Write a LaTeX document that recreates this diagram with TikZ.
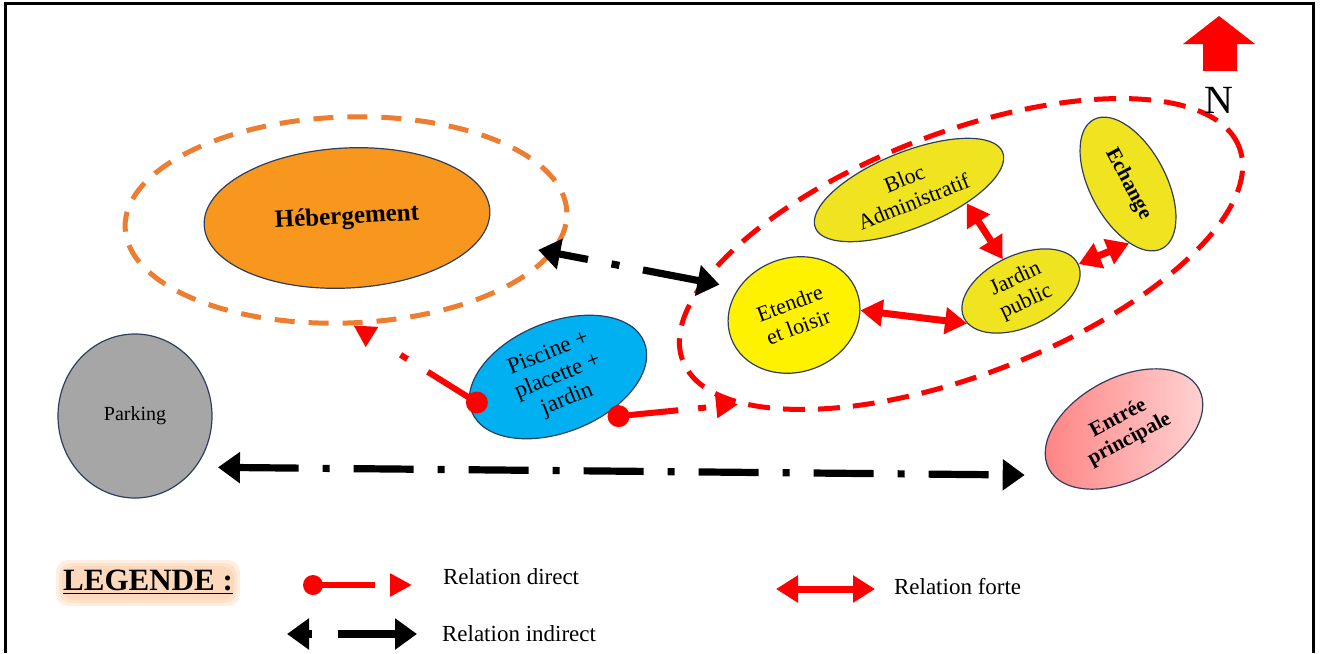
\documentclass[tikz,border=0pt]{standalone}
\usepackage{fontspec}
\setmainfont{Liberation Serif}
\usetikzlibrary{positioning,shapes.geometric,arrows.meta}

\definecolor{orangeheb}{RGB}{247,151,30}
\definecolor{orangezone}{RGB}{237,125,49}
\definecolor{jaunebloc}{RGB}{240,228,32}
\definecolor{bleupisc}{RGB}{0,176,240}
\definecolor{grispark}{RGB}{166,166,166}
\definecolor{bordesp}{RGB}{47,62,94}
\definecolor{roseclair}{RGB}{255,214,214}
\definecolor{rosefonce}{RGB}{255,128,128}
\definecolor{halo}{RGB}{250,190,140}

\tikzset{
    espace/.style={ellipse, draw=bordesp, line width=0.6pt, inner sep=0pt, align=center},
    zone/.style={ellipse, line width=2.5pt, inner sep=0pt},
    pastille/.style={circle, fill=red, inner sep=0pt, minimum size=11pt},
    forte/.style={red, line width=3.5pt, {Triangle[length=11pt,width=13pt]}-{Triangle[length=11pt,width=13pt]}},
    direct/.style={red, line width=3pt, -{Triangle[length=11pt,width=11pt]}},
    indirect/.style={black, line width=3.6pt, {Triangle[length=11pt,width=15pt]}-{Triangle[length=11pt,width=15pt]}},
    legtext/.style={anchor=west, font=\fontsize{11.5}{13}\selectfont},
    legtitre/.style={font=\bfseries\fontsize{15.5}{18}\selectfont, inner sep=1pt},
}

\begin{document}
\begin{tikzpicture}[x=0.5pt, y=-0.5pt]
    \useasboundingbox (0,0) rectangle (1321,653);
    \draw[line width=1.5pt] (5,653) -- (5,3) -- (1313,3) -- (1313,653);

    \node[zone, draw=orangezone, dash pattern=on 10pt off 7pt, minimum width=221pt, minimum height=103pt, rotate=2] (zoneH) at (346,220) {};
    \node[zone, draw=red, dash pattern=on 11pt off 6.5pt, minimum width=298pt, minimum height=121pt, rotate=21] (zoneR) at (961,254) {};

    \node[espace, fill=orangeheb, minimum width=143pt, minimum height=70pt, rotate=3, font=\bfseries\fontsize{12.5}{14}\selectfont] (heb) at (347,218) {Hébergement};
    \node[espace, fill=jaunebloc, minimum width=101pt, minimum height=38pt, rotate=22, font=\fontsize{11}{12.5}\selectfont] (bloc) at (909,190) {Bloc\\Administratif};
    \node[espace, fill=jaunebloc, minimum width=73pt, minimum height=38pt, rotate=-62, font=\bfseries\fontsize{10.5}{12}\selectfont] (ech) at (1128,184) {Echange};
    \node[espace, fill=jaunebloc, minimum width=63pt, minimum height=36pt, rotate=25, font=\fontsize{11}{12.5}\selectfont] (jar) at (1021,291) {Jardin\\public};
    \node[espace, fill=yellow, minimum width=67pt, minimum height=57pt, rotate=20, font=\fontsize{11}{12.5}\selectfont] (eten) at (794,315) {Etendre\\et loisir};
    \node[espace, fill=bleupisc, minimum width=93pt, minimum height=55pt, rotate=22, font=\fontsize{11.5}{12.5}\selectfont] (pis) at (558,377) {Piscine +\\placette +\\jardin};
    \node[espace, fill=grispark, minimum width=77pt, minimum height=82pt, font=\fontsize{10}{12}\selectfont] (park) at (135,416) {Parking};
    \node[espace, left color=rosefonce, right color=roseclair, minimum width=85pt, minimum height=51pt, rotate=28, font=\bfseries\fontsize{10.5}{12}\selectfont] (entr) at (1124,429) {Entrée\\principale};

    \draw[forte] (bloc.-35) -- (jar.95);
    \draw[forte] (ech.-27) -- (jar.0);
    \draw[forte] (eten.-16) -- (jar.186);

    \draw[indirect, dash pattern=on 15pt off 12pt on 4pt off 12pt on 60pt, shorten <=-8pt, shorten >=-9pt] (zoneH.-11) -- (zoneR.165);
    \draw[indirect, dash pattern=on 30pt off 12pt on 3.5pt off 12pt, shorten <=11pt, shorten >=14pt] (park.-40) -- (entr.185);

    \node[pastille] (dotH) at ([shift={(8,0)}]pis.174) {};
    \node[pastille] (dotR) at ([shift={(8,5)}]pis.-55) {};
    \draw[direct, dash pattern=on 29pt off 12pt on 4pt off 40pt] (dotH.center) -- (zoneH.-88);
    \draw[direct, dash pattern=on 30pt off 10pt on 4pt off 30pt] (dotR.center) -- (zoneR.193);

    \fill[red] (1183,44) -- (1219,16) -- (1255,44) -- (1237,44) -- (1237,71) -- (1203,71) -- (1203,44) -- cycle;
    \node[font=\fontsize{20}{24}\selectfont] (nord) at (1219,100) {N};

    \foreach \s in {0,3,6}
        \fill[halo, opacity=0.25, rounded corners=6pt] (62-\s,566-\s) rectangle (234+\s,600+\s);
    \node[legtitre] (legende) at (148,582) {\underline{LEGENDE :}};

    \node[pastille, minimum size=10pt] (legdot) at (313,585) {};
    \coordinate (legdirect) at (412,585);
    \draw[direct, dash pattern=on 31pt off 40pt] (legdot.center) -- (legdirect);
    \node[legtext, right=12pt of legdirect, yshift=4pt] (txtdirect) {Relation direct};

    \coordinate (legindA) at (287,634);
    \coordinate (legindB) at (417,634);
    \draw[indirect, dash pattern=on 2pt off 13pt on 100pt] (legindA) -- (legindB);
    \node[legtext, right=9pt of legindB] (txtindirect) {Relation indirect};

    \coordinate (legforteA) at (776,589);
    \coordinate (legforteB) at (875,589);
    \draw[forte] (legforteA) -- (legforteB);
    \node[legtext, right=6pt of legforteB, yshift=1pt] (txtforte) {Relation forte};
\end{tikzpicture}
\end{document}
